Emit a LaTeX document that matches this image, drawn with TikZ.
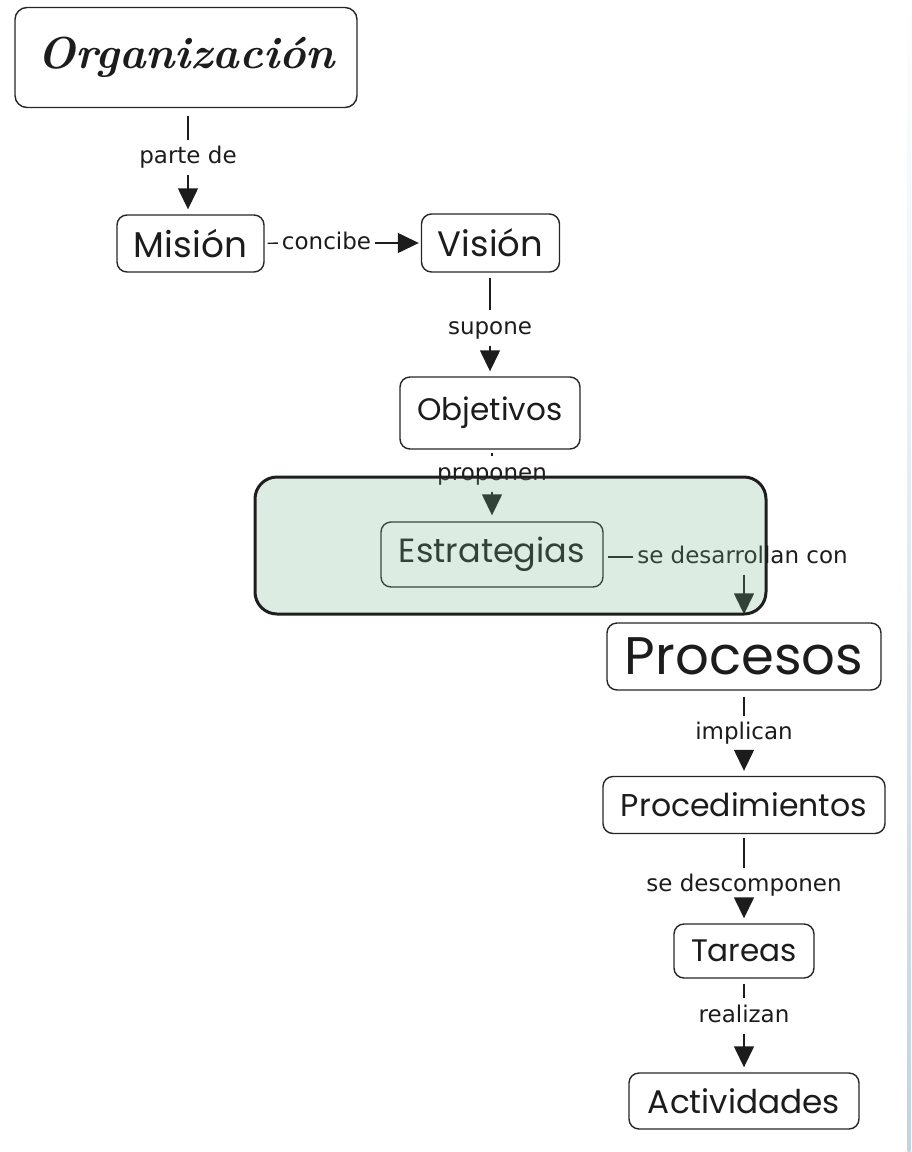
\documentclass[tikz,border=0pt]{standalone}
\usepackage{fontspec}
\usepackage{graphicx}
\usetikzlibrary{arrows.meta}

\newfontfamily\labelfont{DejaVu Sans}
\newfontfamily\conceptfont{Poppins}
% scale a concept title to a given width
\newcommand{\fitwidth}[2]{\resizebox{#1}{!}{#2}}

\definecolor{boxline}{RGB}{38,38,38}
\definecolor{textdark}{RGB}{28,28,28}
\definecolor{groupfill}{RGB}{120,180,140}
\definecolor{groupline}{RGB}{30,30,30}
\definecolor{edgeblue}{RGB}{190,214,224}

\begin{document}
\begin{tikzpicture}[x=1pt,y=-1pt,
  concept/.style={draw=boxline, line width=1.4pt, rounded corners=10pt,
    inner sep=0pt, fill=white, text=textdark, font=\conceptfont},
  linklabel/.style={font=\labelfont\fontsize{23}{26}\selectfont, text=textdark,
    inner xsep=4pt, inner ysep=5.5pt, text height=18pt, text depth=6pt},
  link/.style={line width=1.4pt, draw=textdark, shorten <=5pt},
  linkarrow/.style={line width=1.4pt, draw=textdark, fill=textdark,
    -{Triangle[width=20pt,length=21pt]}, shorten >=5pt},
]
\useasboundingbox (0,0) rectangle (911,1152);

% faint frame edge on the right
\shade[top color=white, bottom color=edgeblue] (907.5,0) rectangle (910.5,1152);

% concepts
\node[concept, minimum width=342pt, minimum height=100pt, rounded corners=12pt] (org) at (186,57.5)
  {\fitwidth{297pt}{\rmfamily\bfseries\itshape Organización}};
\node[concept, minimum width=147pt, minimum height=57pt] (mis) at (190.5,243.5)
  {\fitwidth{113pt}{Misión}};
\node[concept, minimum width=138pt, minimum height=58pt] (vis) at (490.5,243)
  {\fitwidth{105pt}{Visión}};
\node[concept, minimum width=180pt, minimum height=72pt] (obj) at (490,413)
  {\fitwidth{145pt}{Objetivos}};
\node[concept, minimum width=222pt, minimum height=65pt] (est) at (492,554.5)
  {\fitwidth{186pt}{Estrategias}};
\node[concept, minimum width=274pt, minimum height=67pt] (proc) at (744,656.5)
  {\fitwidth{238pt}{Procesos}};
\node[concept, minimum width=282pt, minimum height=57pt] (pdm) at (744,805)
  {\fitwidth{246pt}{Procedimientos}};
\node[concept, minimum width=140pt, minimum height=54pt] (tar) at (744,951)
  {\fitwidth{106pt}{Tareas}};
\node[concept, minimum width=230pt, minimum height=56pt] (act) at (744,1101)
  {\fitwidth{192pt}{Actividades}};

% linking phrases
\node[linklabel] (l1) at (188,157.5) {parte de};
\node[linklabel] (l2) at (326.5,243) {concibe};
\node[linklabel] (l3) at (490,328) {supone};
\node[linklabel] (l4) at (492,474) {proponen};
\node[linklabel] (l5) at (742.5,557) {se desarrollan con};
\node[linklabel] (l6) at (744,733.5) {implican};
\node[linklabel] (l7) at (744,885.5) {se descomponen};
\node[linklabel] (l8) at (744,1016) {realizan};

% connections
\draw[link, shorten <=8pt] (org.south -| l1) -- (l1);
\draw[linkarrow] (l1) -- (l1 |- mis.north);

\draw[link, shorten <=3pt] (mis) -- (l2);
\draw[linkarrow, shorten >=2pt] (l2) -- (vis);

\draw[link] (vis.south -| l3) -- (l3);
\draw[linkarrow] (l3) -- (l3 |- obj.north);

\draw[link, shorten <=3pt] (obj.south -| l4) -- (l4);
\draw[linkarrow, shorten >=6pt] (l4) -- (l4 |- est.north);

\draw[link, shorten <=4pt] (est.east |- l5) -- (l5);
\draw[linkarrow, shorten >=8pt] (l5.south -| proc.north) -- (proc.north);

\draw[link, shorten <=6pt] (proc.south -| l6) -- (l6);
\draw[linkarrow] (l6) -- (l6 |- pdm.north);

\draw[link, shorten <=4pt] (pdm.south -| l7) -- (l7);
\draw[linkarrow] (l7) -- (l7 |- tar.north);

\draw[link] (tar.south -| l8) -- (l8);
\draw[linkarrow] (l8) -- (l8 |- act.north);

% translucent grouping panel laid over the strategy concept
\node[draw=groupline, line width=3pt, fill=groupfill, fill opacity=0.25,
  draw opacity=1, rounded corners=22pt, inner sep=0pt,
  minimum width=511pt, minimum height=137pt] (grp) at (510.5,545.5) {};
\end{tikzpicture}
\end{document}
